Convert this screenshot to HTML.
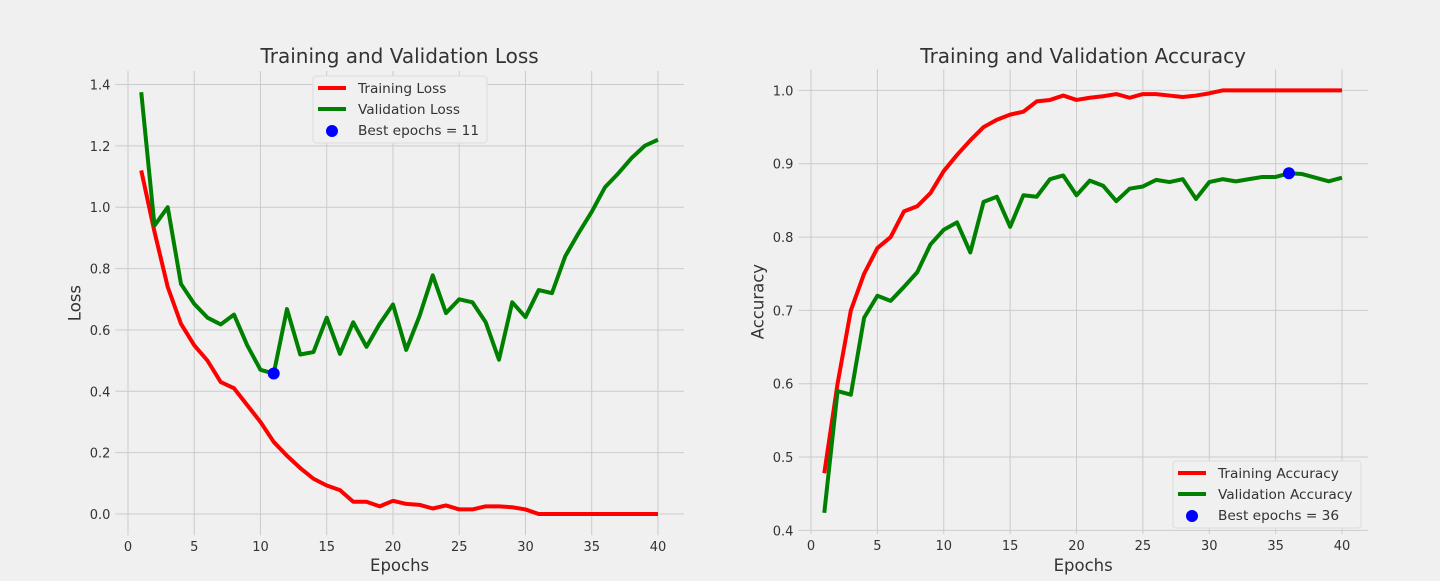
<!DOCTYPE html>
<html><head><meta charset="utf-8"><style>
body{margin:0;background:#f0f0f0;font-family:"Liberation Sans","DejaVu Sans",sans-serif;}
svg text{font-family:"DejaVu Sans","Liberation Sans",sans-serif;fill:#333;}
</style></head><body>
<svg id="fig" width="1440" height="576" xmlns="http://www.w3.org/2000/svg">
<rect width="1440" height="576" fill="#f0f0f0"/>
</svg>
<script>
const epochs = Array.from({length:40},(_,i)=>i+1);
const trainLoss = [1.12,0.92,0.74,0.62,0.55,0.50,0.43,0.41,0.355,0.30,0.235,0.19,0.15,0.115,0.093,0.078,0.04,0.04,0.025,0.043,0.033,0.03,0.018,0.028,0.015,0.015,0.025,0.025,0.022,0.015,0,0,0,0,0,0,0,0,0,0];
const valLoss = [1.375,0.94,1.0,0.75,0.685,0.64,0.618,0.65,0.55,0.47,0.458,0.668,0.52,0.528,0.64,0.522,0.625,0.545,0.62,0.683,0.535,0.645,0.778,0.655,0.70,0.69,0.625,0.503,0.69,0.642,0.73,0.72,0.84,0.915,0.985,1.065,1.11,1.16,1.20,1.22];
const trainAcc = [0.478,0.60,0.70,0.75,0.785,0.80,0.835,0.842,0.86,0.89,0.912,0.932,0.95,0.96,0.967,0.971,0.985,0.987,0.993,0.987,0.99,0.992,0.995,0.99,0.995,0.995,0.993,0.991,0.993,0.996,1,1,1,1,1,1,1,1,1,1];
const valAcc = [0.424,0.59,0.585,0.69,0.72,0.713,0.732,0.752,0.79,0.81,0.82,0.779,0.848,0.855,0.814,0.857,0.855,0.879,0.884,0.857,0.877,0.87,0.849,0.866,0.869,0.878,0.875,0.879,0.852,0.875,0.879,0.876,0.879,0.882,0.882,0.887,0.886,0.881,0.876,0.881];
const xTicks = [0,5,10,15,20,25,30,35,40];
const lossTicks = [0,0.2,0.4,0.6,0.8,1.0,1.2,1.4];
const accTicks = [0.4,0.5,0.6,0.7,0.8,0.9,1.0];
const bestLossEpoch = 11;
const bestAccEpoch = 36;

const NS="http://www.w3.org/2000/svg";
const svg=document.getElementById('fig');
function mk(tag,attrs,parent){const e=document.createElementNS(NS,tag);for(const k in attrs)e.setAttribute(k,attrs[k]);(parent||svg).appendChild(e);return e;}

function panel(cfg){
  const g=mk('g',{});
  
  
  const sx=v=>cfg.x0+(v-cfg.xmin)/(cfg.xmax-cfg.xmin)*(cfg.x1-cfg.x0);
  const sy=v=>cfg.y0-(v-cfg.ymin)/(cfg.ymax-cfg.ymin)*(cfg.y0-cfg.y1);
  xTicks.forEach(t=>{
    const l=mk('line',{x1:sx(t),x2:sx(t),y1:cfg.y0,y2:cfg.y1,stroke:'#cbcbcb','stroke-width':1},g);
    
    
    const tx=mk('text',{x:sx(t),y:cfg.y0+16,'font-size':13,'text-anchor':'middle'},g);
    tx.textContent=t;
    
    
  });
  cfg.yTicks.forEach(t=>{
    const l=mk('line',{x1:cfg.x0,x2:cfg.x1,y1:sy(t),y2:sy(t),stroke:'#cbcbcb','stroke-width':1},g);
    
    
    const tx=mk('text',{x:cfg.x0-5,y:sy(t)+5,'font-size':13,'text-anchor':'end'},g);
    tx.textContent=t.toFixed(1);
    
    
  });
  const pts=a=>a.map((v,i)=>sx(epochs[i])+','+sy(v)).join(' ');
  const p1=mk('polyline',{points:pts(cfg.s1),fill:'none',stroke:'#ff0000','stroke-width':4,'stroke-linejoin':'round'},g);
  
  
  const p2=mk('polyline',{points:pts(cfg.s2),fill:'none',stroke:'#008000','stroke-width':4,'stroke-linejoin':'round'},g);
  
  
  const c=mk('circle',{cx:sx(cfg.best),cy:sy(cfg.s2[cfg.best-1]),r:6,fill:'#0000ff'},g);
  
  
  const title=mk('text',{x:(cfg.x0+cfg.x1)/2,y:63,'font-size':20,'text-anchor':'middle'},g);
  title.textContent=cfg.title;
  
  
  const xl=mk('text',{x:(cfg.x0+cfg.x1)/2,y:571,'font-size':16.5,'text-anchor':'middle'},g);
  xl.textContent='Epochs';
  
  
  const yx=cfg.x0-35, yy=(cfg.y0+cfg.y1)/2;
  const yl=mk('text',{x:yx,y:yy,'font-size':16.5,'text-anchor':'middle',transform:`rotate(-90 ${yx} ${yy})`},g);
  yl.textContent=cfg.ylabel;
  
  
  const lg=mk('g',{},g);
  
  
  const L=cfg.leg;
  mk('rect',{x:L.x,y:L.y,width:L.w,height:67,rx:3,fill:'#f0f0f0',stroke:'#dddddd'},lg);
  const items=[[cfg.l1,'#ff0000','line'],[cfg.l2,'#008000','line'],['Best epochs = '+cfg.best,'#0000ff','dot']];
  items.forEach((it,i)=>{
    const yy2=L.y+12+i*21;
    if(it[2]==='line') mk('line',{x1:L.x+5,x2:L.x+33,y1:yy2,y2:yy2,stroke:it[1],'stroke-width':4},lg);
    else mk('circle',{cx:L.x+19,cy:yy2+1,r:6,fill:it[1]},lg);
    const t=mk('text',{x:L.x+45,y:yy2+5,'font-size':13.7},lg);
    t.textContent=it[0];
    
    
  });
}
panel({name:'loss-chart',x0:115.4,x1:683.8,xmin:-0.95,xmax:41.95,y0:535.2,y1:71,ymin:-0.069,ymax:1.444,
  yTicks:lossTicks,s1:trainLoss,s2:valLoss,n1:'training-loss-line',n2:'validation-loss-line',best:bestLossEpoch,
  title:'Training and Validation Loss',ylabel:'Loss',l1:'Training Loss',l2:'Validation Loss',leg:{x:313,y:76,w:174}});
panel({name:'accuracy-chart',x0:798.4,x1:1367.9,xmin:-0.95,xmax:41.95,y0:533.9,y1:69.3,ymin:0.3952,ymax:1.0288,
  yTicks:accTicks,s1:trainAcc,s2:valAcc,n1:'training-accuracy-line',n2:'validation-accuracy-line',best:bestAccEpoch,
  title:'Training and Validation Accuracy',ylabel:'Accuracy',l1:'Training Accuracy',l2:'Validation Accuracy',leg:{x:1173,y:461,w:188}});
</script>
</body></html>
